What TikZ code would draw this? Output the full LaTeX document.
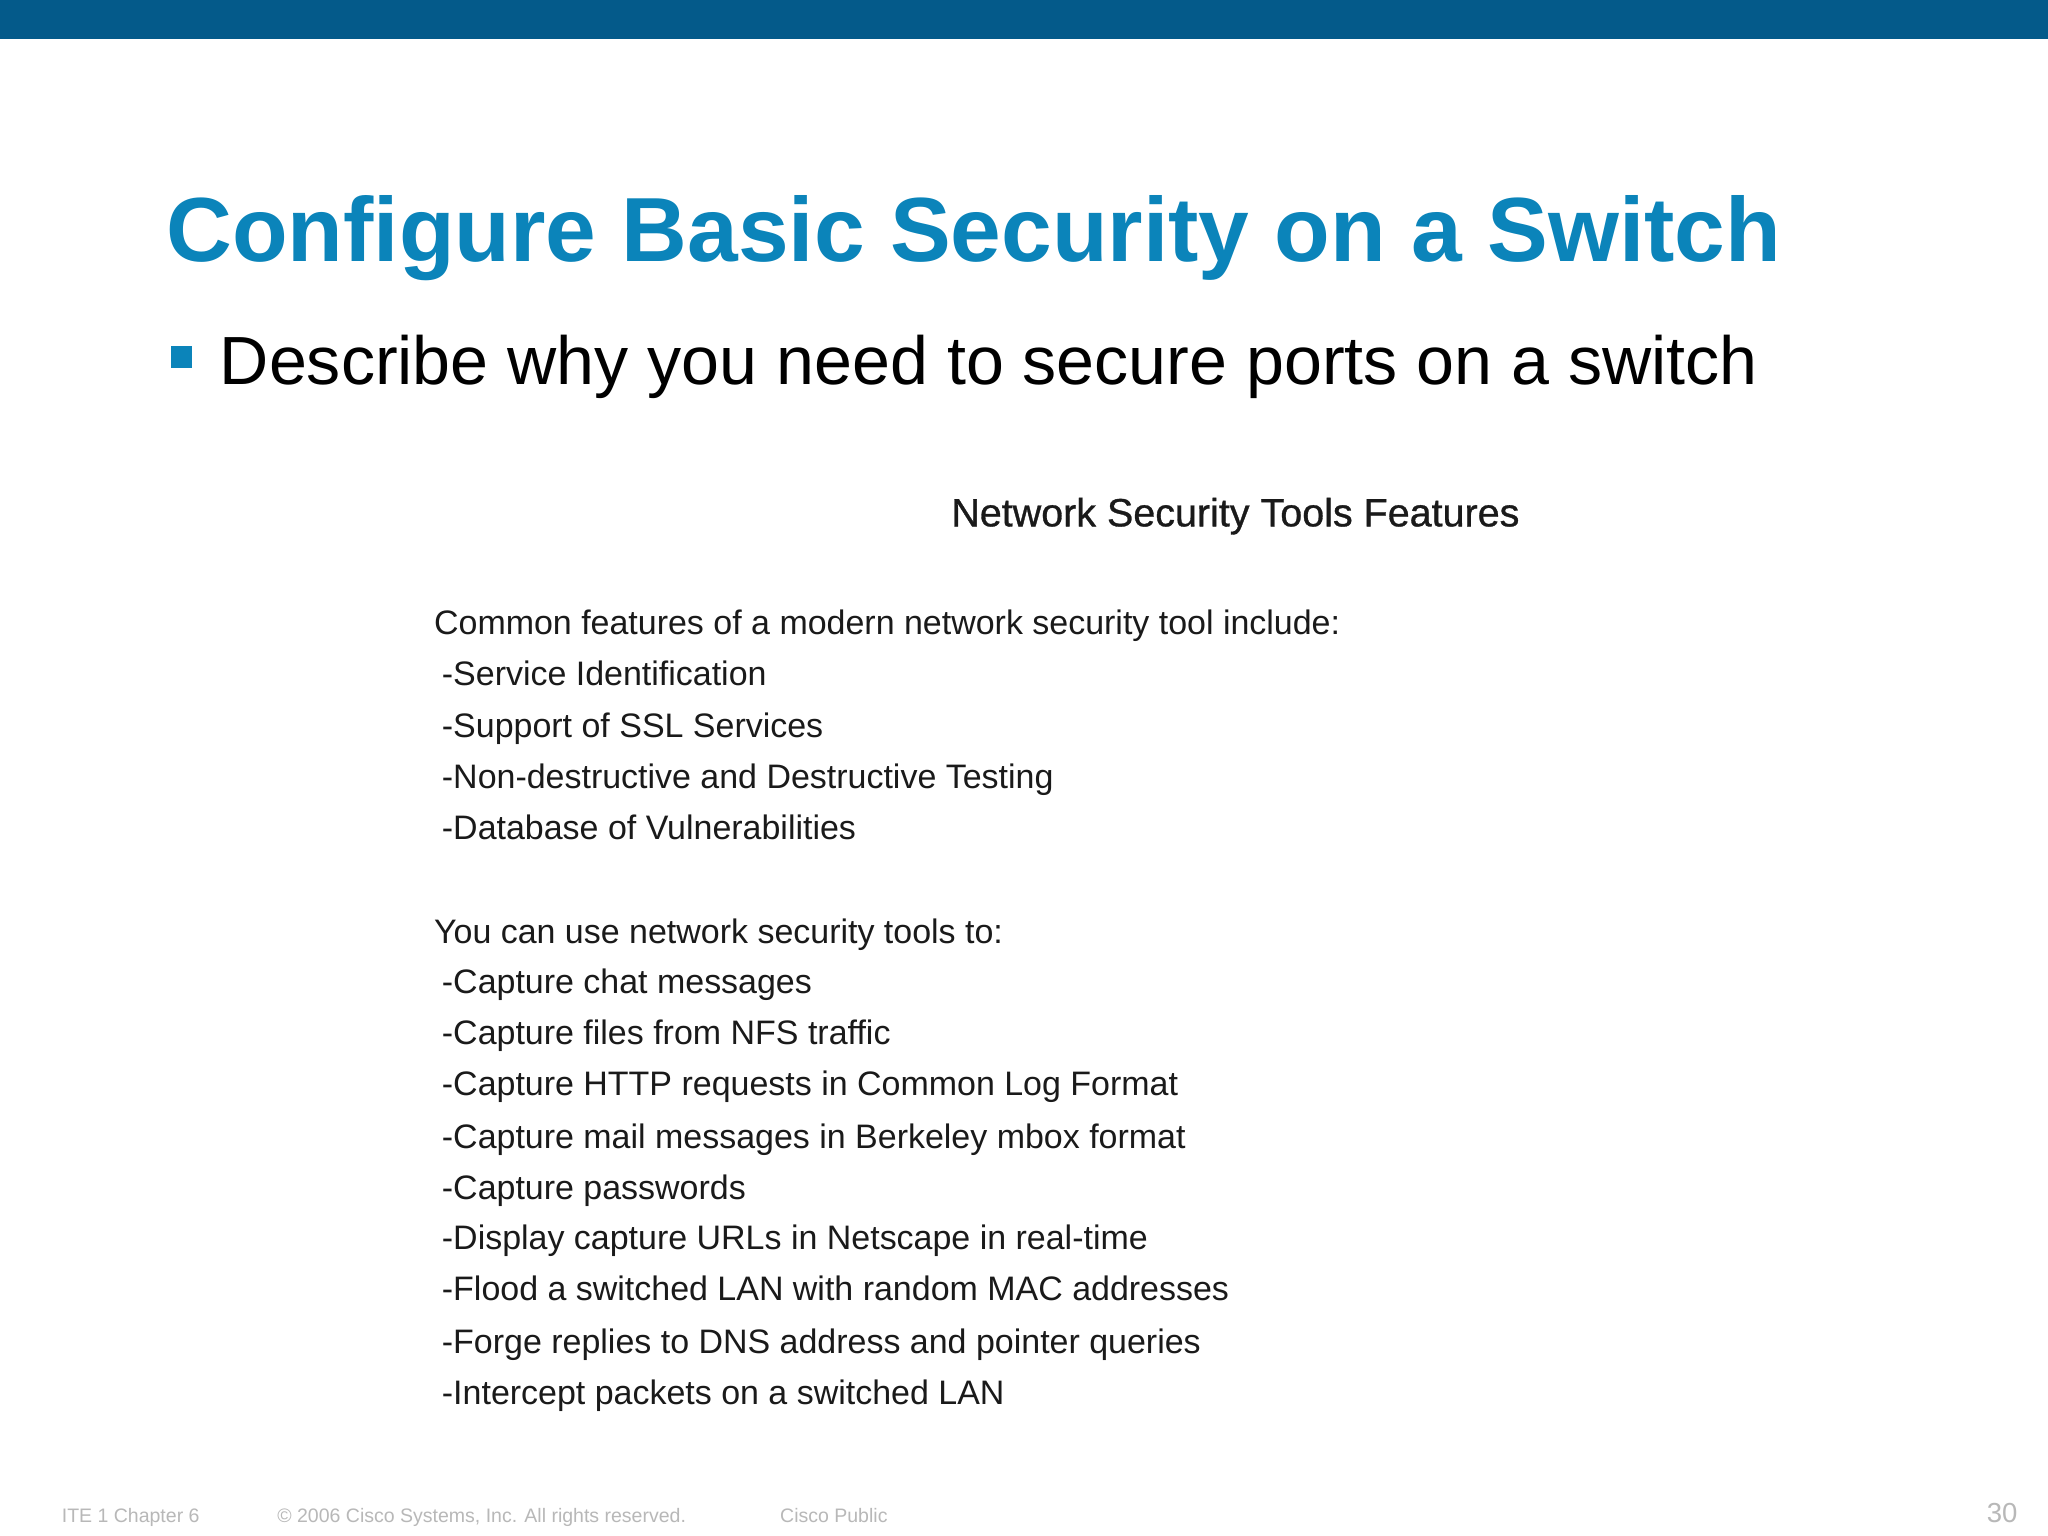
\documentclass[tikz,border=0pt]{standalone}
\usepackage{fontspec}
\setmainfont{Liberation Sans}
\newfontfamily\headfont[FakeBold=0.8]{Liberation Sans}
\definecolor{topbar}{HTML}{045A8A}
\definecolor{titleblue}{HTML}{0B84BA}
\definecolor{bodytext}{HTML}{1A1A1A}
\definecolor{foot}{HTML}{B8B8B8}
\begin{document}
\begin{tikzpicture}[x=0.02cm,y=-0.02cm,
  body/.style={anchor=base west,inner sep=0,text=bodytext,font=\fontsize{14.8}{16}\selectfont},
  footer/.style={anchor=base west,inner sep=0,text=foot,font=\fontsize{8.5}{10}\selectfont}]
\useasboundingbox (0,0) rectangle (1568,1176);
\fill[white] (0,0) rectangle (1568,1176);
\fill[topbar] (0,0) rectangle (1568,30);
\node[anchor=base west,inner sep=0,text=titleblue,font=\fontsize{39.7}{44}\bfseries\selectfont] (title) at (127,200) {Configure Basic Security on a Switch};
\fill[titleblue] (131,265) rectangle (147,282);
\node[anchor=base west,inner sep=0,font=\fontsize{29.7}{32}\selectfont] (bullet) at (168,294) {Describe why you need to secure ports on a switch};
\node[body,font=\headfont\fontsize{17.2}{18}\selectfont] (head) at (728,403) {Network Security Tools Features};
\node[body] (l1) at (332,486) {Common features of a modern network security tool include:};
\node[body] (l2) at (338,525) {-Service Identification};
\node[body] (l3) at (338,565) {-Support of SSL Services};
\node[body] (l4) at (338,604) {-Non-destructive and Destructive Testing};
\node[body] (l5) at (338,643) {-Database of Vulnerabilities};
\node[body] (l6) at (332,722) {You can use network security tools to:};
\node[body] (l7) at (338,761) {-Capture chat messages};
\node[body] (l8) at (338,800) {-Capture files from NFS traffic};
\node[body] (l9) at (338,839) {-Capture HTTP requests in Common Log Format};
\node[body] (l10) at (338,879) {-Capture mail messages in Berkeley mbox format};
\node[body] (l11) at (338,918) {-Capture passwords};
\node[body] (l12) at (338,957) {-Display capture URLs in Netscape in real-time};
\node[body] (l13) at (338,996) {-Flood a switched LAN with random MAC addresses};
\node[body] (l14) at (338,1036) {-Forge replies to DNS address and pointer queries};
\node[body] (l15) at (338,1075) {-Intercept packets on a switched LAN};
\node[footer] (f1) at (47,1166) {ITE 1 Chapter 6};
\node[footer] (f2) at (212,1166) {© 2006 Cisco Systems, Inc. All rights reserved.};
\node[footer] (f3) at (597,1166) {Cisco Public};
\node[footer,font=\fontsize{12}{14}\selectfont,anchor=base east] (pg) at (1545,1166) {30};
\end{tikzpicture}
\end{document}
